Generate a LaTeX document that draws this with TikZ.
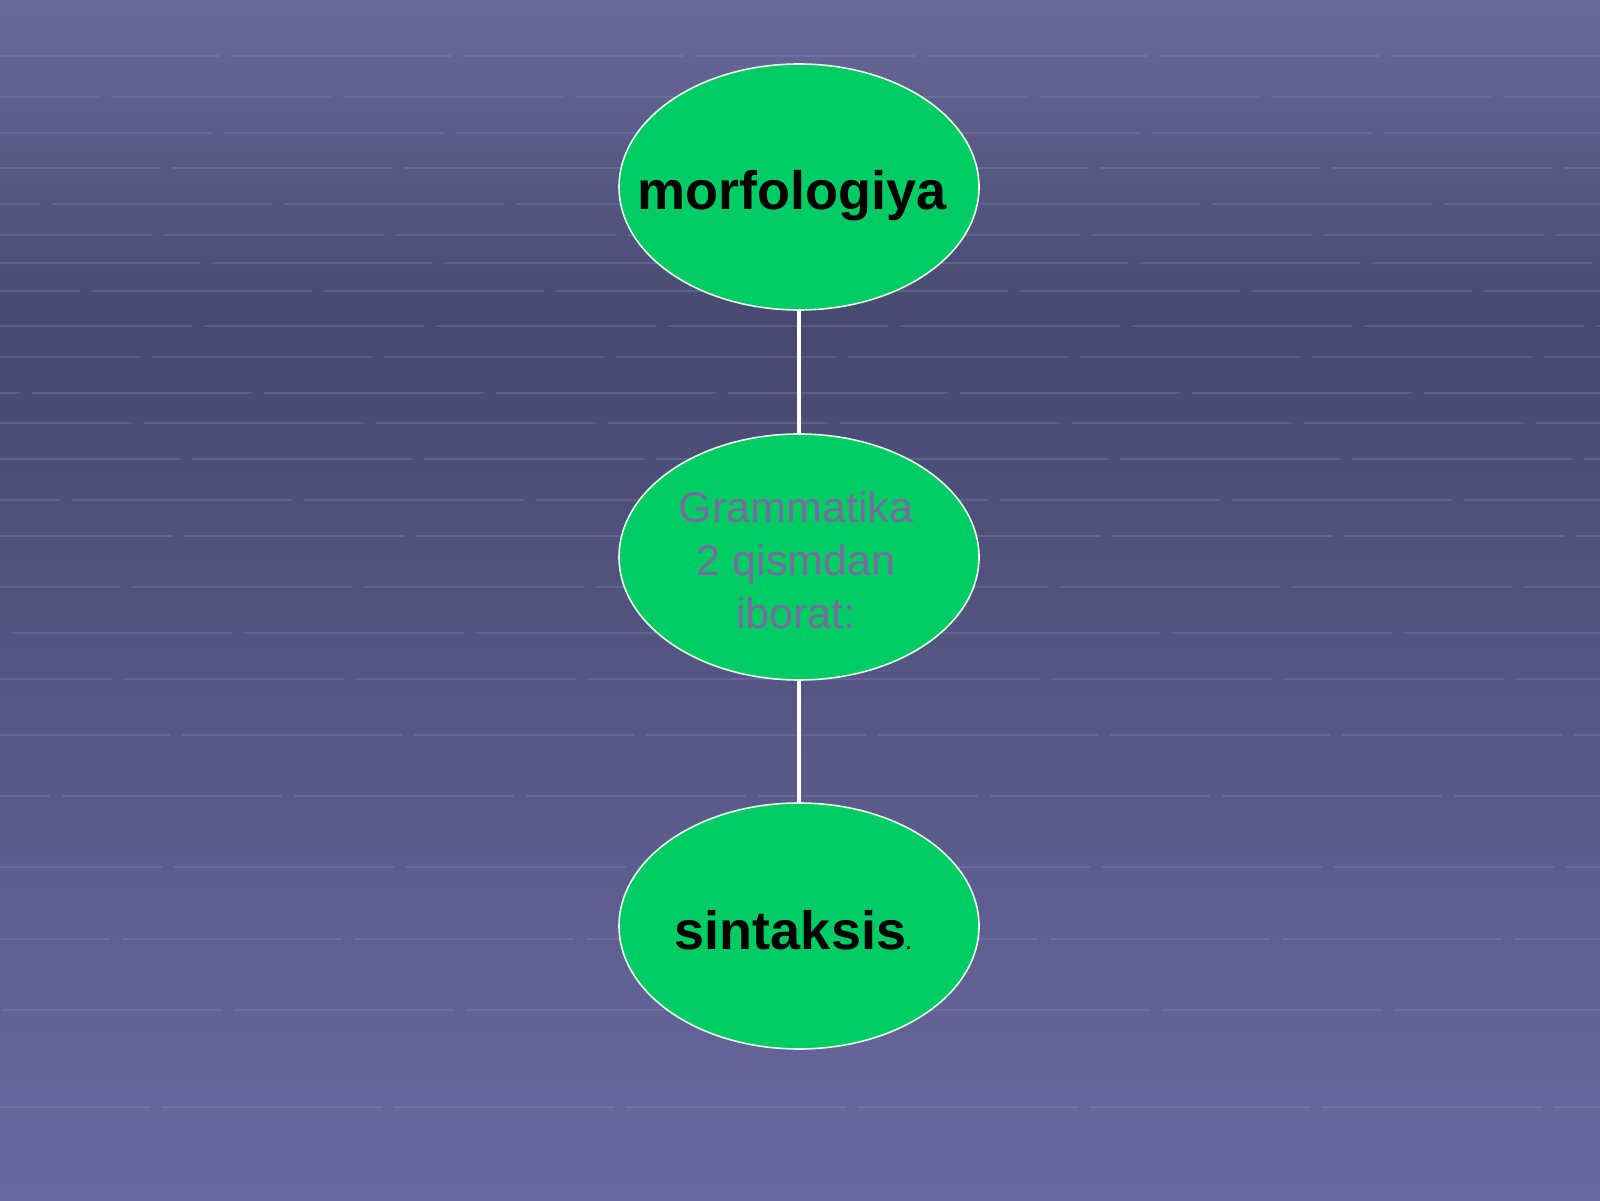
\documentclass[tikz,border=0pt]{standalone}
\usepackage{fontspec}
\setmainfont{Liberation Sans}
\usetikzlibrary{shapes.geometric}
\definecolor{bgtop}{RGB}{106,106,156}
\definecolor{bgdark}{RGB}{72,72,112}
\definecolor{bgbot}{RGB}{106,104,160}
\definecolor{brick}{RGB}{128,128,178}
\definecolor{ovalgreen}{RGB}{0,204,102}
\definecolor{midtext}{RGB}{118,108,158}
\tikzset{
  oval/.style={ellipse, draw=white!90!green, line width=0.8pt, fill=ovalgreen,
    minimum width=180pt, minimum height=123pt, inner sep=0pt},
  boldlabel/.style={font=\bfseries\fontsize{27pt}{32pt}\selectfont, text=black},
  midlabel/.style={font=\fontsize{21.5pt}{26.5pt}\selectfont, text=midtext, align=center},
  link/.style={draw=white, line width=1.6pt},
  brickline/.style={draw=brick, line width=1.2pt, opacity=0.38}
}
\begin{document}
\begin{tikzpicture}[x=0.5pt,y=0.5pt]
\useasboundingbox (0,0) rectangle (1600,1200);
% background
\shade[top color=bgtop, bottom color=bgdark] (0,1200) rectangle (1600,880);
\shade[top color=bgdark, bottom color=bgbot] (0,880) rectangle (1600,0);
% brick-like lines
\foreach \y/\ph in {56/0,97/60,133/120,168/30,204/90,235/150,263/10,291/70,326/130,357/40,393/100,423/160,459/20,500/80,536/140,587/50,633/110,679/170,735/25,796/85,867/145,939/55,1010/115,1107/35}{
  \draw[brickline, dash pattern=on 110pt off 6pt, dash phase=\ph pt] (0,1200-\y) -- (1600,1200-\y);
}
% nodes
\node[oval] (m) at (799,1200-187) {};
\node[oval] (g) at (799,1200-557) {};
\node[oval] (s) at (799,1200-926) {};
\node[boldlabel] (mt) at (792,1200-196) {morfologiya};
\node[midlabel] (gt) at (796,1200-560) {Grammatika\\2 qismdan\\iborat:};
\node[boldlabel] (st) at (793,1200-930) {sintaksis{\fontsize{9pt}{10pt}\selectfont.}};
% connectors
\draw[link] (m.south) -- (g.north);
\draw[link] (g.south) -- (s.north);
\end{tikzpicture}
\end{document}
